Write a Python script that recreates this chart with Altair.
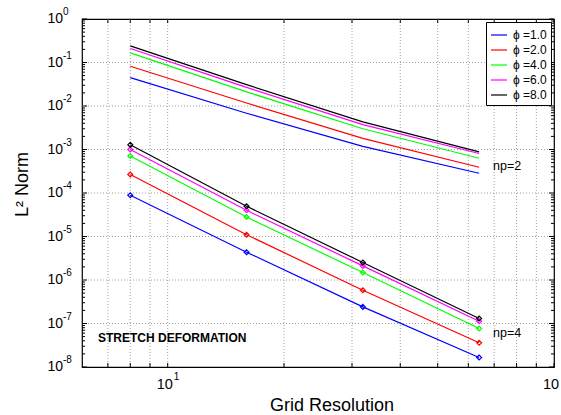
import altair as alt
import pandas as pd

# ---------------- data ----------------
grid = [8, 16, 32, 64]
phi_labels = ["ϕ =1.0", "ϕ =2.0", "ϕ =4.0", "ϕ =6.0", "ϕ =8.0"]
colors = ["#0000ff", "#ff0000", "#00ff00", "#ff00ff", "#000000"]

# np = 2 (upper group, no markers)
np2_phi1 = [0.045, 6.8e-3, 1.18e-3, 2.85e-4]
np2_phi2 = [0.082, 1.17e-2, 1.8e-3, 3.9e-4]
np2_phi4 = [0.166, 2.11e-2, 3.0e-3, 6.3e-4]
np2_phi6 = [0.21, 2.68e-2, 3.73e-3, 8.1e-4]
np2_phi8 = [0.241, 3.09e-2, 4.3e-3, 8.8e-4]

# np = 4 (lower group, diamond markers)
np4_phi1 = [8.9e-5, 4.36e-6, 2.41e-7, 1.65e-8]
np4_phi2 = [2.66e-4, 1.1e-5, 5.83e-7, 3.6e-8]
np4_phi4 = [7.1e-4, 2.8e-5, 1.49e-6, 7.7e-8]
np4_phi6 = [1.0e-3, 4.0e-5, 2.11e-6, 1.13e-7]
np4_phi8 = [1.28e-3, 4.97e-5, 2.52e-6, 1.3e-7]

x_grid_values = [7, 8, 9, 10, 20, 30, 40, 50, 60, 70, 80, 90]
x_tick_values = [7, 8, 9, 10, 20, 30, 40, 50, 60, 70, 80, 90, 100]
x_label_values = [10, 100]
x_label_bases = ["10", "10"]
x_label_exps = ["1", ""]
y_exps = [0, -1, -2, -3, -4, -5, -6, -7, -8]
y_minor_mult = [2, 3, 4, 5, 6, 7, 8, 9]

# ---------------- tables ----------------
def long(series_list):
    rows = []
    for lab, vals in zip(phi_labels, series_list):
        for g, v in zip(grid, vals):
            rows.append({"x": g, "y": v, "phi": lab})
    return pd.DataFrame(rows)

df2 = long([np2_phi1, np2_phi2, np2_phi4, np2_phi6, np2_phi8])
df4 = long([np4_phi1, np4_phi2, np4_phi4, np4_phi6, np4_phi8])

y_major = pd.DataFrame({"y": [10.0 ** e for e in y_exps]})
y_gridlines = pd.DataFrame({"y": [10.0 ** e for e in y_exps[1:-1]]})
y_minor = pd.DataFrame({"y": [m * 10.0 ** e for e in y_exps[1:] for m in y_minor_mult]})
x_ticks = pd.DataFrame({"x": x_tick_values})
x_gridlines = pd.DataFrame({"x": x_grid_values})
x_labels = pd.DataFrame({"x": x_label_values, "base": x_label_bases, "exp": x_label_exps})
y_labels = pd.DataFrame({"y": [10.0 ** e for e in y_exps], "base": ["10"] * len(y_exps),
                         "exp": [str(e) for e in y_exps]})

W, H = 472, 348
FONT = "Liberation Sans"

xscale = alt.Scale(type="log", domain=[6, 100], nice=False)
yscale = alt.Scale(type="log", domain=[1e-8, 1], nice=False)
cscale = alt.Scale(domain=phi_labels, range=colors)

legend = alt.Legend(orient="top-right", offset=3, title=None, strokeColor="black",
                    fillColor="white", padding=4, symbolType="stroke", symbolSize=256,
                    symbolStrokeWidth=1.2, labelFont=FONT, labelFontSize=12,
                    labelColor="black", rowPadding=0, labelOffset=5)

GRID_COLOR = "#a0a0a0"
xgrid = alt.Chart(x_gridlines).mark_rule(color=GRID_COLOR, strokeWidth=1,
                                         strokeDash=[1, 2]).encode(
    x=alt.X("x:Q", scale=xscale, axis=None), y=alt.value(0), y2=alt.value(H))
ygrid = alt.Chart(y_gridlines).mark_rule(color=GRID_COLOR, strokeWidth=1,
                                         strokeDash=[1, 2]).encode(
    y=alt.Y("y:Q", scale=yscale, axis=None), x=alt.value(0), x2=alt.value(W))

lines2 = alt.Chart(df2).mark_line(strokeWidth=1.2).encode(
    x=alt.X("x:Q", scale=xscale, axis=None),
    y=alt.Y("y:Q", scale=yscale, axis=None),
    color=alt.Color("phi:N", scale=cscale, legend=legend, sort=phi_labels),
)
lines4 = alt.Chart(df4).mark_line(strokeWidth=1.2).encode(
    x=alt.X("x:Q", scale=xscale, axis=None),
    y=alt.Y("y:Q", scale=yscale, axis=None),
    color=alt.Color("phi:N", scale=cscale, legend=legend, sort=phi_labels),
)
points4 = alt.Chart(df4).mark_point(shape="diamond", filled=False, size=24, strokeWidth=1.2,
                                    opacity=1).encode(
    x=alt.X("x:Q", scale=xscale, axis=None),
    y=alt.Y("y:Q", scale=yscale, axis=None),
    color=alt.Color("phi:N", scale=cscale, legend=None),
)

def yrule(df, x0, x1):
    return alt.Chart(df).mark_rule(color="black", strokeWidth=1).encode(
        y=alt.Y("y:Q", scale=yscale, axis=None), x=alt.value(x0), x2=alt.value(x1))

def xrule(df, y0, y1):
    return alt.Chart(df).mark_rule(color="black", strokeWidth=1).encode(
        x=alt.X("x:Q", scale=xscale, axis=None), y=alt.value(y0), y2=alt.value(y1))

ticks = [
    yrule(y_major, 0, 5), yrule(y_major, W, W - 5),
    yrule(y_minor, 0, 3), yrule(y_minor, W, W - 3),
    xrule(x_ticks, H, H - 4), xrule(x_ticks, 0, 4),
]

ylab_base = alt.Chart(y_labels).mark_text(align="right", baseline="middle", font=FONT,
                                         fontSize=14, color="black").encode(
    y=alt.Y("y:Q", scale=yscale, axis=None), x=alt.value(-19), text="base:N")
ylab_exp = alt.Chart(y_labels).mark_text(align="left", baseline="middle", font=FONT,
                                        fontSize=10, color="black", dy=-7).encode(
    y=alt.Y("y:Q", scale=yscale, axis=None), x=alt.value(-19), text="exp:N")
xlab_base = alt.Chart(x_labels).mark_text(align="center", baseline="middle", font=FONT,
                                         fontSize=14.5, color="black", dx=-3).encode(
    x=alt.X("x:Q", scale=xscale, axis=None), y=alt.value(366), text="base:N")
xlab_exp = alt.Chart(x_labels).mark_text(align="left", baseline="middle", font=FONT,
                                        fontSize=10, color="black", dx=6).encode(
    x=alt.X("x:Q", scale=xscale, axis=None), y=alt.value(357.5), text="exp:N")

xtitle = alt.Chart(pd.DataFrame({"t": ["Grid Resolution"]})).mark_text(
    align="center", baseline="alphabetic", font=FONT, fontSize=18, color="black").encode(
    x=alt.value(250), y=alt.value(391.5), text="t:N")
ytitle = alt.Chart(pd.DataFrame({"t": ["L² Norm"]})).mark_text(
    align="center", baseline="alphabetic", font=FONT, fontSize=18, color="black",
    angle=270).encode(x=alt.value(-54), y=alt.value(165.5), text="t:N")

ann_np2 = alt.Chart(pd.DataFrame({"t": ["np=2"]})).mark_text(
    align="left", baseline="middle", font=FONT, fontSize=12.5, color="black").encode(
    x=alt.value(411), y=alt.value(146.5), text="t:N")
ann_np4 = alt.Chart(pd.DataFrame({"t": ["np=4"]})).mark_text(
    align="left", baseline="middle", font=FONT, fontSize=12.5, color="black").encode(
    x=alt.value(411), y=alt.value(313.5), text="t:N")
ann_title = alt.Chart(pd.DataFrame({"t": ["STRETCH DEFORMATION"]})).mark_text(
    align="left", baseline="middle", font=FONT, fontSize=12, fontWeight="bold",
    color="black").encode(x=alt.value(16), y=alt.value(319), text="t:N")

chart = alt.layer(
    xgrid, ygrid, lines2, *ticks, lines4, points4, ylab_base, ylab_exp, xlab_base, xlab_exp,
    xtitle, ytitle, ann_np2, ann_np4, ann_title,
).properties(
    width=W, height=H,
    autosize=alt.AutoSizeParams(type="none"),
    padding={"left": 82, "top": 19, "right": 7, "bottom": 48},
    background="white",
).configure_view(stroke="black", strokeWidth=1.2)

chart.save("out.html", embed_options={"renderer": "svg", "actions": False})
